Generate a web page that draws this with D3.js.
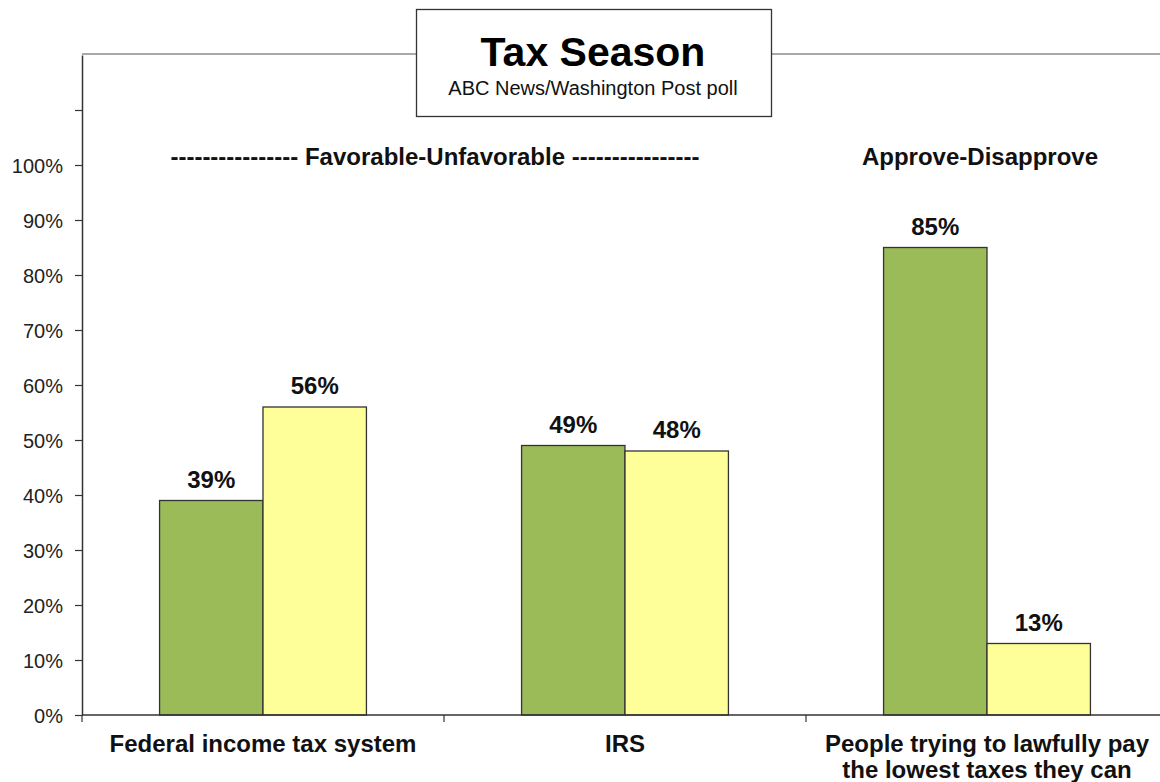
<!DOCTYPE html>
<html>
<head>
<meta charset="utf-8">
<script src="https://cdn.jsdelivr.net/npm/d3@7"></script>
<style>
  body { margin: 0; background: #fff; }
  svg { display: block; font-family: "Liberation Sans", Arial, sans-serif; }
</style>
</head>
<body>
<div id="container"></div>
<script>
var categories = ['Federal income tax system', 'IRS', 'People trying to lawfully pay|the lowest taxes they can']
var positive = [39, 49, 85]
var negative = [56, 48, 13]
var yTicks = [0, 10, 20, 30, 40, 50, 60, 70, 80, 90, 100, 110]

var width = 1160
var height = 782
var plotLeft = 82
var plotRight = 1168
var plotTop = 55
var plotBottom = 715

var svg = d3.select('#container').append('svg')
    .attr('width', width)
    .attr('height', height)

var y = d3.scaleLinear().domain([0, 120]).range([plotBottom, plotTop])
var x = d3.scaleBand().domain(categories).range([plotLeft, plotRight])
var inner = d3.scaleBand().domain(['pos', 'neg']).range([0, x.bandwidth()]).paddingOuter(0.75)

// plot frame top line
svg.append('line')
    .attr('x1', plotLeft).attr('x2', width)
    .attr('y1', plotTop - 1).attr('y2', plotTop - 1)
    .attr('stroke', '#8c8c8c').attr('stroke-width', 1.5)

// y axis
var yAxis = svg.append('g')
    .attr('transform', 'translate(' + plotLeft + ',0)')
    .call(d3.axisLeft(y).tickValues(yTicks).tickSize(7).tickSizeOuter(0).tickPadding(12)
        .tickFormat(function(d){ return d <= 100 ? d + '%' : '' }))
yAxis.select('.domain').attr('stroke', '#333').attr('stroke-width', 1.5)
yAxis.selectAll('.tick line').attr('stroke', '#333').attr('stroke-width', 1.2)
yAxis.selectAll('text').attr('font-size', 20).attr('fill', '#222')
    .attr('dy', '0.36em')
    .attr('font-family', '"Liberation Sans", Arial, sans-serif')

// bars
var groups = svg.selectAll('g.group')
    .data(categories)
    .enter()
    .append('g')
    .attr('class', 'group')
    .attr('transform', function(d){ return 'translate(' + x(d) + ',0)' })

var rows = categories.map(function(c, i){
    return [{ key: 'pos', v: positive[i] }, { key: 'neg', v: negative[i] }]
})

groups.each(function(c, i){
    var g = d3.select(this)
    g.selectAll('rect')
        .data(rows[i])
        .enter()
        .append('rect')
        .attr('x', function(d){ return inner(d.key) })
        .attr('y', function(d){ return y(d.v) })
        .attr('width', inner.bandwidth())
        .attr('height', function(d){ return plotBottom - y(d.v) })
        .attr('fill', function(d){ return d.key === 'pos' ? '#9BBB59' : '#FFFF99' })
        .attr('stroke', '#333')
        .attr('stroke-width', 1.3)

    g.selectAll('text.val')
        .data(rows[i])
        .enter()
        .append('text')
        .attr('class', 'val')
        .attr('x', function(d){ return inner(d.key) + inner.bandwidth() / 2 })
        .attr('y', function(d){ return y(d.v) - 13 })
        .attr('text-anchor', 'middle')
        .attr('font-size', 24)
        .attr('font-weight', 'bold')
        .attr('fill', '#111')
        .text(function(d){ return d.v + '%' })
})

// x axis
svg.append('line')
    .attr('x1', plotLeft).attr('x2', width)
    .attr('y1', plotBottom).attr('y2', plotBottom)
    .attr('stroke', '#333').attr('stroke-width', 1.5)

svg.selectAll('line.xtick')
    .data(categories)
    .enter()
    .append('line')
    .attr('class', 'xtick')
    .attr('x1', function(d){ return x(d) }).attr('x2', function(d){ return x(d) })
    .attr('y1', plotBottom).attr('y2', plotBottom + 7)
    .attr('stroke', '#333').attr('stroke-width', 1.2)

svg.selectAll('text.cat')
    .data(categories)
    .enter()
    .append('text')
    .attr('class', 'cat')
    .attr('text-anchor', 'middle')
    .attr('font-size', 24)
    .attr('font-weight', 'bold')
    .attr('fill', '#111')
    .each(function(d){
        var lines = d.split('|')
        var t = d3.select(this)
        lines.forEach(function(l, k){
            t.append('tspan')
                .attr('x', x(d) + x.bandwidth() / 2)
                .attr('y', 752 + k * 26)
                .text(l)
        })
    })

// section headers
svg.append('text')
    .attr('x', 435).attr('y', 165)
    .attr('text-anchor', 'middle')
    .attr('font-size', 24)
    .attr('font-weight', 'bold')
    .attr('fill', '#111')
    .text('---------------- Favorable-Unfavorable ----------------')

svg.append('text')
    .attr('x', 980).attr('y', 165)
    .attr('text-anchor', 'middle')
    .attr('font-size', 24)
    .attr('font-weight', 'bold')
    .attr('fill', '#111')
    .text('Approve-Disapprove')

// title box
svg.append('rect')
    .attr('x', 416.5).attr('y', 9.5)
    .attr('width', 355).attr('height', 107)
    .attr('fill', '#fff')
    .attr('stroke', '#333').attr('stroke-width', 1.3)

svg.append('text')
    .attr('x', 593).attr('y', 66)
    .attr('text-anchor', 'middle')
    .attr('font-size', 41)
    .attr('font-weight', 'bold')
    .attr('fill', '#000')
    .text('Tax Season')

svg.append('text')
    .attr('x', 593).attr('y', 95)
    .attr('text-anchor', 'middle')
    .attr('font-size', 20)
    .attr('fill', '#111')
    .text('ABC News/Washington Post poll')
</script>
</body>
</html>
